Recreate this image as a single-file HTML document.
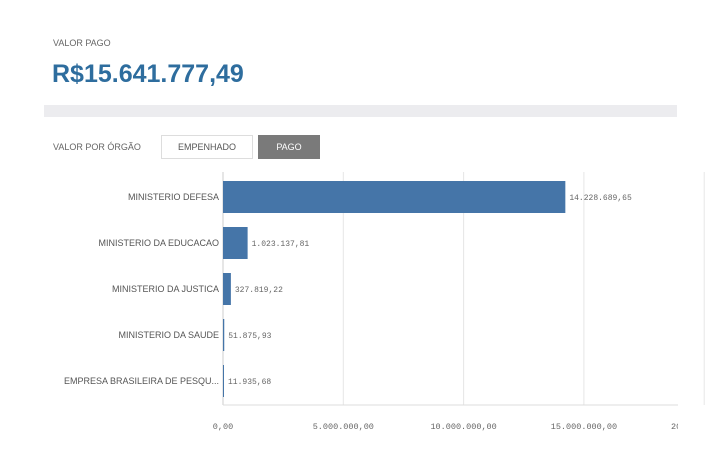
<!DOCTYPE html>
<html><head><meta charset="utf-8"><style>
body{margin:0;width:720px;height:462px;background:#fff;font-family:"Liberation Sans",sans-serif;overflow:hidden;position:relative}
.t{position:absolute}
</style></head><body>
<div class="t" style="left:53px;top:38px;font-size:9px;color:#666">VALOR PAGO</div>
<div class="t" style="left:52px;top:60px;font-size:25px;font-weight:bold;color:#2e6d9e">R$15.641.777,49</div>
<div class="t" style="left:44px;top:105px;width:633px;height:12px;background:#ececef"></div>
<div class="t" style="left:53px;top:142px;font-size:9px;color:#666">VALOR POR ÓRGÃO</div>
<div class="t" style="left:161px;top:135px;width:92px;height:24px;border:1px solid #ddd;font-size:9px;color:#555;display:flex;align-items:center;justify-content:center;box-sizing:border-box">EMPENHADO</div>
<div class="t" style="left:258px;top:135px;width:62px;height:24px;background:#7a7a7a;font-size:9px;color:#fff;display:flex;align-items:center;justify-content:center">PAGO</div>
<svg id="chart" width="720" height="462" style="position:absolute;left:0;top:0"></svg>
<script>
const categories=["MINISTERIO DEFESA","MINISTERIO DA EDUCACAO","MINISTERIO DA JUSTICA","MINISTERIO DA SAUDE","EMPRESA BRASILEIRA DE PESQU..."];
const values=[14228689.65,1023137.81,327819.22,51875.93,11935.68];
const valueLabels=["14.228.689,65","1.023.137,81","327.819,22","51.875,93","11.935,68"];
const ticks=[0,5000000,10000000,15000000,20000000];
const tickLabels=["0,00","5.000.000,00","10.000.000,00","15.000.000,00","20.000.000,00"];
const svg=document.getElementById('chart');const NS="http://www.w3.org/2000/svg";
const x0=223,pxPer=120.3/5000000;const X=v=>x0+v*pxPer;
const rowTop=174,rowH=46,barH=32;const Y=i=>rowTop+i*rowH+rowH/2;
function mk(t,a){const e=document.createElementNS(NS,t);for(const k in a)e.setAttribute(k,a[k]);svg.appendChild(e);return e;}
const clip=mk('clipPath',{id:'cp'});const cr=document.createElementNS(NS,'rect');cr.setAttribute('x',0);cr.setAttribute('y',0);cr.setAttribute('width',678);cr.setAttribute('height',462);clip.appendChild(cr);
ticks.forEach((t,i)=>{
 const g=mk('line',{x1:X(t),x2:X(t),y1:172,y2:405,stroke:i==0?'#ccc':'#e6e6e6','stroke-width':1});
 
 const tx=mk('text',{x:X(t),y:429,'text-anchor':'middle','font-size':'8.5','fill':'#666','font-family':'Liberation Mono, monospace','clip-path':'url(#cp)'});
 tx.textContent=tickLabels[i];
 
});
const ax=mk('line',{x1:223,x2:678,y1:405,y2:405,stroke:'#ddd'});

categories.forEach((c,i)=>{
 const y=Y(i);
 const l=mk('text',{x:219,y:y+3,'text-anchor':'end','font-size':'9','fill':'#555'});l.textContent=c;
 
 const w=Math.max(1,X(values[i])-x0);
 const b=mk('rect',{x:x0,y:y-barH/2,width:w,height:barH,fill:'#4575a8'});
 
 const v=mk('text',{x:x0+w+4,y:y+3,'font-size':'8','fill':'#666','font-family':'Liberation Mono, monospace'});v.textContent=valueLabels[i];
 
});
</script>
</body></html>
